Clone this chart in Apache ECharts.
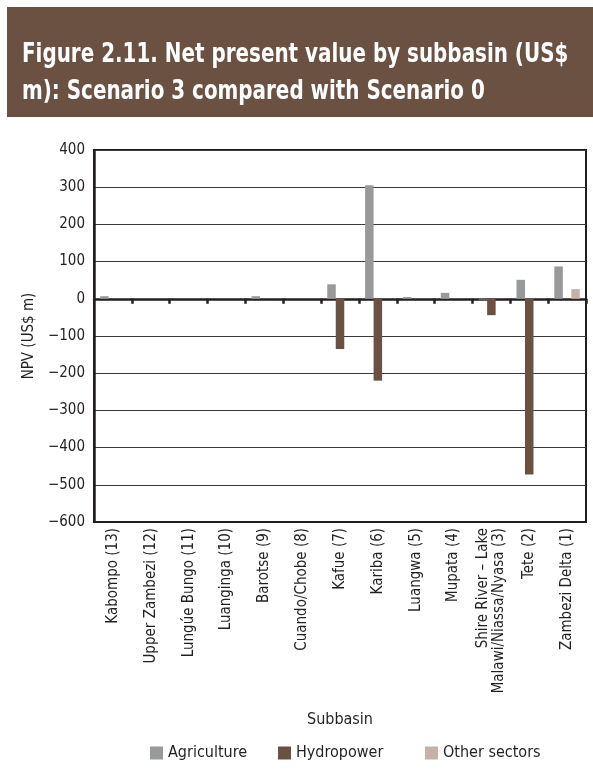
<!DOCTYPE html>
<html>
<head>
<meta charset="utf-8">
<script src="https://cdn.jsdelivr.net/npm/echarts@6/dist/echarts.min.js"></script>
<style>
  html, body { margin: 0; padding: 0; background: #ffffff; }
  #chart { width: 593px; height: 775px; }
</style>
</head>
<body>
<div id="chart"></div>
<script>
// Subbasins, ordered from the upper reaches down to the delta
const subbasins = [
  'Kabompo (13)', 'Upper Zambezi (12)', 'Lungúe Bungo (11)', 'Luanginga (10)',
  'Barotse (9)', 'Cuando/Chobe (8)', 'Kafue (7)', 'Kariba (6)', 'Luangwa (5)',
  'Mupata (4)', 'Shire River – Lake\nMalawi/Niassa/Nyasa (3)', 'Tete (2)', 'Zambezi Delta (1)'
];

// Net present value change by sector, US$ million
const agriculture = [7, 0, 0, 0, 7, 0, 39, 305, 5, 16, -2, 51, 87];
const hydropower  = [0, 0, 0, 0, 0, 0, -135, -220, 0, 0, -44, -472, 0];
const otherSectors = [0, 0, 0, 0, 0, 0, 0, 0, 0, 0, 0, 0, 26];

const yTicks = { min: -600, max: 400, step: 100 };

const FONT = "'Liberation Sans Narrow', 'DejaVu Sans Condensed', sans-serif";
const INK = '#231f20';
const COLORS = { Agriculture: '#98999b', Hydropower: '#6b5142', 'Other sectors': '#c5b2a6' };

const chart = echarts.init(document.getElementById('chart'), null, { renderer: 'canvas' });

// One legend per sector so each entry sits at its own spot
function legendAt(name, left) {
  return {
    data: [name],
    left: left,
    top: 740,
    itemWidth: 13,
    itemHeight: 13,
    itemGap: 0,
    icon: 'rect',
    selectedMode: false,
    textStyle: { fontFamily: FONT, fontSize: 16, color: INK }
  };
}

const option = {
  backgroundColor: '#ffffff',
  animation: false,
  textStyle: { fontFamily: FONT, color: INK },
  graphic: [
    {
      type: 'rect',
      shape: { x: 7, y: 7, width: 586, height: 110 },
      style: { fill: '#6b5142' }
    },
    {
      type: 'text',
      x: 22, y: 36,
      scaleX: 0.82,
      style: {
        text: 'Figure 2.11. Net present value by subbasin (US$\nm): Scenario 3 compared with Scenario 0',
        fill: '#ffffff',
        font: 'bold 27px ' + FONT,
        lineHeight: 37
      }
    }
  ],
  grid: {
    left: 94, right: 7, top: 150, bottom: 253,
    show: true,
    borderColor: INK,
    borderWidth: 2
  },
  legend: [
    legendAt('Agriculture', 145),
    legendAt('Hydropower', 273),
    legendAt('Other sectors', 420)
  ],
  xAxis: [
    {
      type: 'category',
      data: subbasins,
      position: 'bottom',
      name: 'Subbasin',
      nameLocation: 'middle',
      nameGap: 190,
      nameTextStyle: { fontFamily: FONT, fontSize: 16, color: INK },
      axisLine: { onZero: false, show: true, lineStyle: { color: INK, width: 2 } },
      axisTick: { show: false },
      axisLabel: {
        rotate: 90,
        margin: 6,
        interval: 0,
        fontFamily: FONT,
        fontSize: 15,
        color: INK,
        lineHeight: 16
      }
    },
    {
      type: 'category',
      data: subbasins,
      position: 'bottom',
      axisLine: { onZero: true, show: true, lineStyle: { color: INK, width: 2.5 } },
      axisTick: {
        show: true, length: 5, lineStyle: { color: INK, width: 2.5 },
        // skip the two ends, they fall on the frame
        interval: i => i > 0
      },
      axisLabel: { show: false }
    }
  ],
  yAxis: {
    type: 'value',
    min: yTicks.min,
    max: yTicks.max,
    interval: yTicks.step,
    name: 'NPV (US$ m)',
    nameLocation: 'middle',
    nameGap: 54,
    nameTextStyle: { fontFamily: FONT, fontSize: 15, color: INK },
    axisLine: { show: true, lineStyle: { color: INK, width: 2.5 } },
    axisTick: { show: false },
    splitLine: { show: true, lineStyle: { color: '#3a3a3a', width: 1 } },
    axisLabel: {
      margin: 9,
      fontFamily: FONT,
      fontSize: 15,
      color: INK,
      formatter: v => String(v).replace('-', '\u2212')
    }
  },
  series: [
    {
      name: 'Agriculture', type: 'bar', xAxisIndex: 0,
      data: agriculture, barWidth: 8.5, barGap: '0%',
      itemStyle: { color: COLORS.Agriculture }
    },
    {
      name: 'Hydropower', type: 'bar', xAxisIndex: 0,
      data: hydropower, barWidth: 8.5, barGap: '0%',
      itemStyle: { color: COLORS.Hydropower }
    },
    {
      name: 'Other sectors', type: 'bar', xAxisIndex: 0,
      data: otherSectors, barWidth: 8.5, barGap: '0%',
      itemStyle: { color: COLORS['Other sectors'] }
    }
  ]
};

chart.setOption(option);
</script>
</body>
</html>
